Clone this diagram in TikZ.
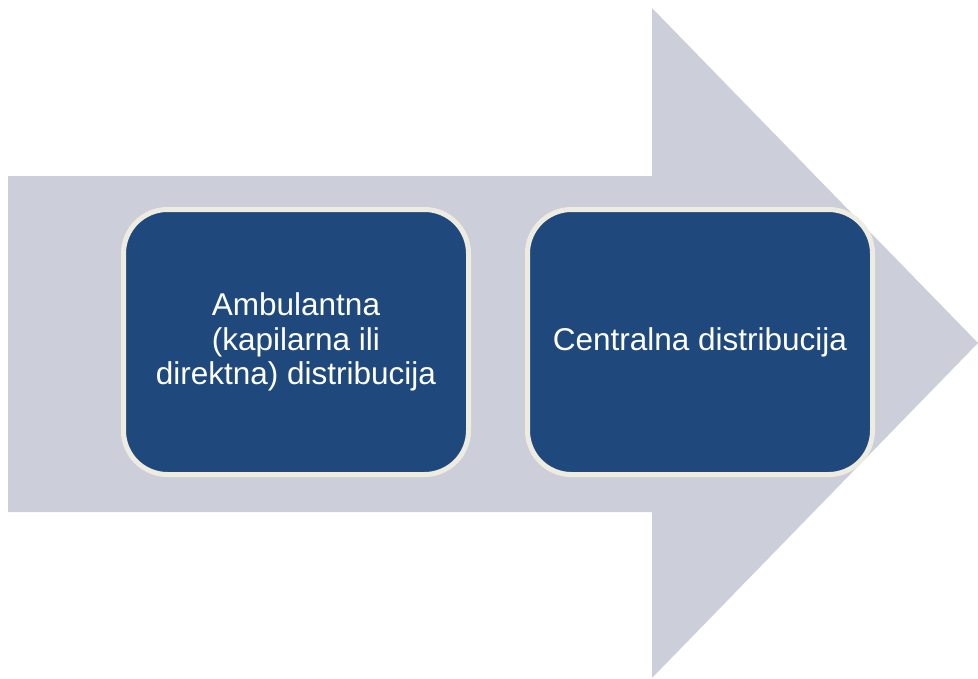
\documentclass[tikz,border=0pt]{standalone}
\usepackage{fontspec}
\setmainfont{Liberation Sans}
\definecolor{arrowgray}{HTML}{CCCFD9}
\definecolor{boxblue}{HTML}{1F497D}
\definecolor{boxedge}{HTML}{EEECE1}
\begin{document}
\begin{tikzpicture}[x=1pt,y=-1pt,
  stagebox/.style={draw=boxedge, line width=5pt, fill=boxblue, rounded corners=44pt,
    minimum width=345pt, minimum height=265pt, inner sep=0pt, text=white,
    align=center, font=\fontsize{31.5}{34.5}\selectfont}]
\useasboundingbox (0,0) rectangle (978,678);
\fill[arrowgray] (8,176) -- (652,176) -- (652,8) -- (978,343) -- (652,678) -- (652,512) -- (8,512) -- cycle;
\node[stagebox] (a) at (296,342) {Ambulantna\\(kapilarna ili\\direktna) distribucija};
\node[stagebox] (b) at (700,342) {Centralna distribucija};
\end{tikzpicture}
\end{document}
